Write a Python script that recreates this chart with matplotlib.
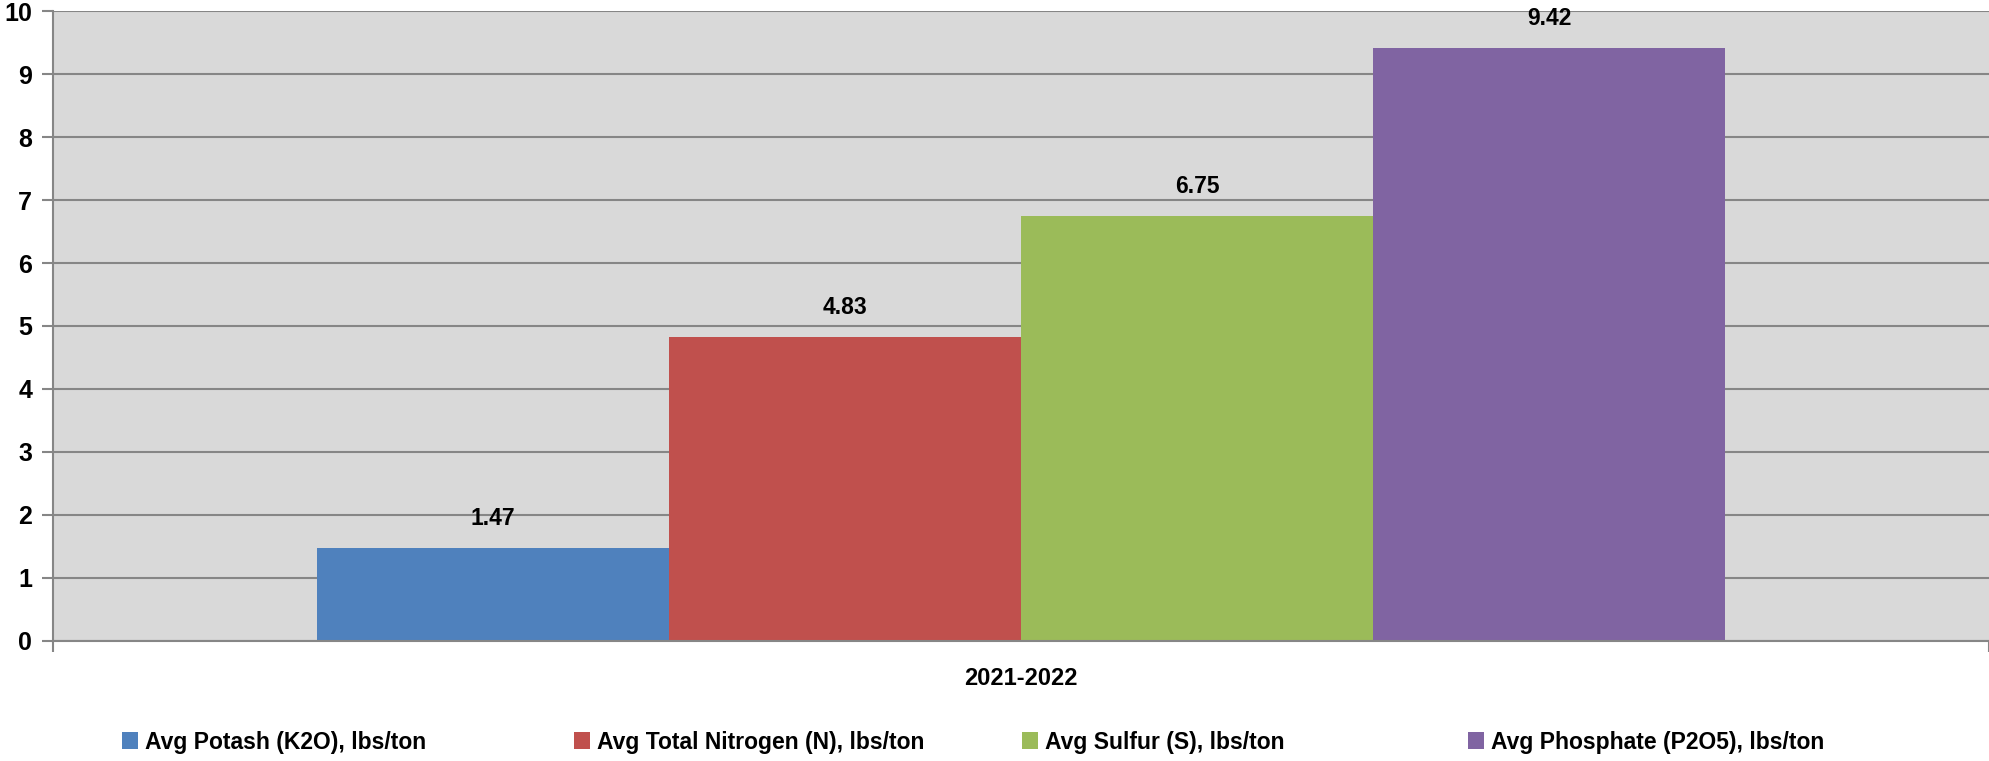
import matplotlib
matplotlib.use("Agg")
import matplotlib.pyplot as plt
from matplotlib.patches import Patch

# data
category = "2021-2022"
series = ["Avg Potash (K2O), lbs/ton", "Avg Total Nitrogen (N), lbs/ton",
          "Avg Sulfur (S), lbs/ton", "Avg Phosphate (P2O5), lbs/ton"]
values = [1.47, 4.83, 6.75, 9.42]
colors = ["#4f81bd", "#c0504d", "#9bbb59", "#8064a2"]
yticks = list(range(0, 11))

plt.rcParams["font.family"] = ["Liberation Sans", "DejaVu Sans"]
plt.rcParams["font.weight"] = "bold"

W, H = 1989, 761
fig = plt.figure(figsize=(W / 100, H / 100), dpi=100)
ax = fig.add_axes([53 / W, 1 - 640.6 / H, (W - 53) / W, (640.6 - 11.4) / H])
ax.set_facecolor("#d9d9d9")

bar_w = 352 / 1936
n = len(values)
for i, (name, v, c) in enumerate(zip(series, values, colors)):
    x = (i - (n - 1) / 2) * bar_w
    ax.bar(x, v, width=bar_w, color=c, label=name, zorder=2)
    ax.annotate(f"{v:.2f}", (x, v), xytext=(0, 13), textcoords="offset points",
                ha="center", va="bottom", fontsize=16.5, fontweight="bold")

ax.set_xlim(-0.5, 0.5)
ax.set_ylim(0, 10)
ax.set_yticks(yticks)
ax.set_yticklabels([str(t) for t in yticks], fontsize=18, fontweight="bold")
ax.yaxis.grid(True, color="#868686", linewidth=1.5)
ax.set_axisbelow(True)

ax.set_xticks([0])
ax.set_xticklabels([category], fontsize=17, fontweight="bold")
ax.set_xticks([-0.5, 0.5], minor=True)
ax.tick_params(axis="x", which="major", length=0, pad=19)
ax.tick_params(axis="x", which="minor", length=8, width=1.5, color="#868686")
ax.tick_params(axis="y", length=8, width=1.5, color="#868686", pad=7)

for s in ["top", "right"]:
    ax.spines[s].set_visible(False)
for s in ["left", "bottom"]:
    ax.spines[s].set_color("#868686")
    ax.spines[s].set_linewidth(1.5)

# legend, one entry per slot like the spreadsheet legend
leg_x = [101, 553, 1001, 1447]
for name, c, lx in zip(series, colors, leg_x):
    fig.legend(handles=[Patch(facecolor=c, label=name)], loc="center left",
               bbox_to_anchor=(lx / W, 1 - 742 / H), frameon=False,
               handlelength=0.7, handleheight=0.7, handletextpad=0.3,
               prop={"size": 16.5, "weight": "bold"})

fig.savefig("out.png", dpi=100)
